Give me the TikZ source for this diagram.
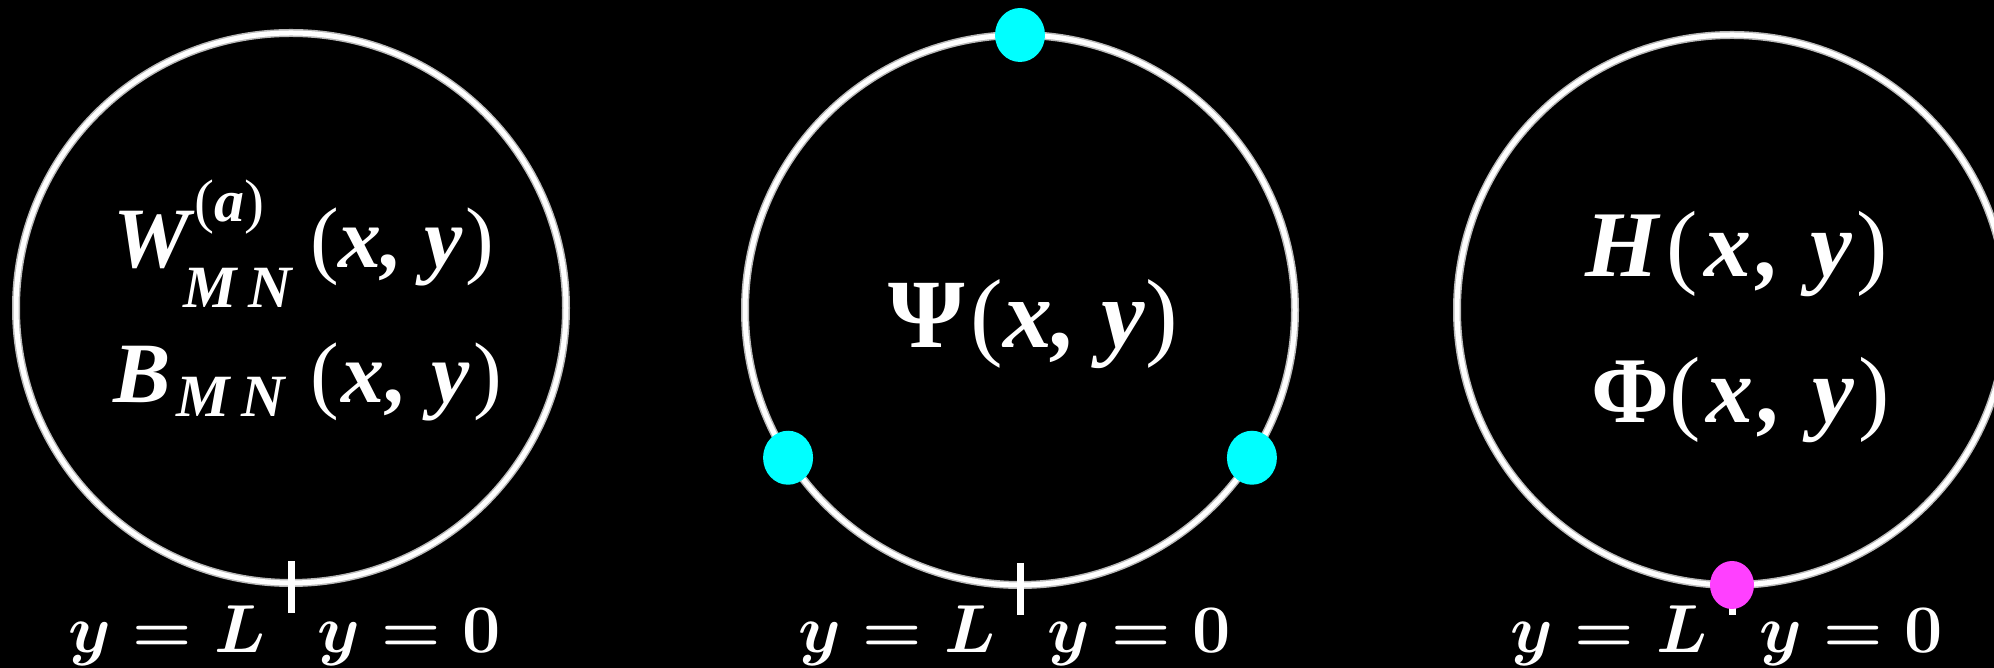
\RequirePackage{fix-cm}
\documentclass[tikz,border=0pt]{standalone}
\usepackage[no-math]{fontspec}
\setmainfont{Liberation Serif}
\usepackage{bm}
\usetikzlibrary{calc}

\newcommand{\bi}[1]{\textbf{\textit{#1}}}
\newcommand{\fsz}[1]{\fontsize{#1}{#1}\selectfont}
\newcommand{\wideargs}{(\kern3pt\bi{x}\kern3pt\bi{,}\kern3pt\ \bi{y}\kern2pt)}
\definecolor{dotcyan}{HTML}{00FFFF}
\definecolor{dotpink}{HTML}{FF40FF}

\begin{document}
\begin{tikzpicture}[x=0.5pt,y=0.5pt,
  ringglow/.style={draw=gray!55,line width=4pt},
  ring/.style={draw=white,line width=2.5pt},
  tickmark/.style={draw=white,line width=3.5pt},
  field/.style={text=white,inner sep=0pt,anchor=base west},
  endlabel/.style={text=white,inner sep=0pt,anchor=base west,font=\fsz{34}\boldmath},
]
  \def\rr{275}
  \fill[black] (0,0) rectangle (1994,668);
  \useasboundingbox (0,0) rectangle (1994,668);
%
  \coordinate (c1) at (291,360);
  \coordinate (c2) at (1020,358);
  \coordinate (c3) at (1732,358);
  \foreach \c in {c1,c2,c3} {
    \draw[ringglow] (\c) circle (\rr);
    \draw[ring] (\c) circle (\rr);
    \draw[tickmark] ($(\c)+(0,-253)$) -- ($(\c)+(0,-305)$);
  }
%
  \node[field,font=\fsz{43}] (w1) at (113,400)
    {\bi{W}\rlap{\raisebox{23pt}{\fsz{30}(\bi{a})}}\kern-5.5pt\raisebox{-20pt}{\fsz{30}\bi{M}\,\bi{N}}\kern8pt(\bi{x}\bi{,} \bi{y}\kern1pt)};
  \node[field,font=\fsz{43}] (b1) at (113,265)
    {\bi{B}\kern3pt\raisebox{-7pt}{\fsz{30}\bi{M}\,\bi{N}}\kern12pt(\kern1pt\bi{x}\kern1pt\bi{,}\kern1pt\ \bi{y}\kern2pt)};
  \node[field,font=\fsz{49}] (psi) at (888,320) {\textbf{Ψ}\kern3pt(\bi{x}\bi{,} \bi{y})};
  \node[field,font=\fsz{47}] (h3) at (1585,391) {\bi{H}\kern3pt\wideargs};
  \node[field,font=\fsz{47}] (phi) at (1591,245) {\textbf{Φ}\wideargs};
%
  \foreach \c/\xl/\xo in {1/68/317, 2/798/1047, 3/1510/1759} {
    \node[endlabel] (yl\c) at (\xl,15) {$y=L$};
    \node[endlabel] (yo\c) at (\xo,15) {$y=0$};
  }
%
  \fill[dotcyan] ($(c2)+(90:\rr)$) ellipse (25 and 27);
  \fill[dotcyan] ($(c2)+(212.5:\rr)$) ellipse (25 and 27);
  \fill[dotcyan] ($(c2)+(327.5:\rr)$) ellipse (25 and 27);
  \fill[dotpink] ($(c3)+(270:\rr)$) ellipse (22 and 24);
\end{tikzpicture}
\end{document}
